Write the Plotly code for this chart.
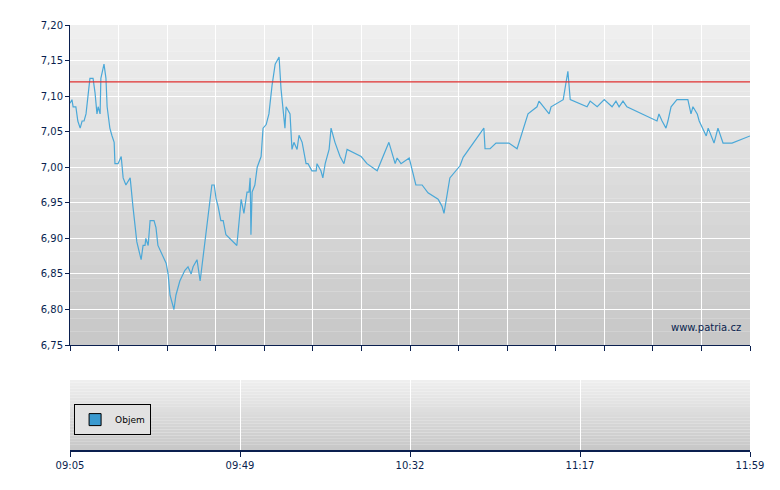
import plotly.graph_objects as go

minutes = [0,0.5,0.8,1.5,2.0,2.6,3.1,3.6,4.1,5.1,5.9,6.4,6.9,7.2,7.7,7.9,8.7,9.2,9.5,10.2,10.7,11.3,11.5,12.3,13.1,13.6,14.3,15.4,16.1,17.1,18.2,18.7,19.2,19.4,20.0,20.5,21.5,22.0,22.5,23.3,24.1,24.6,25.1,25.6,26.6,27.1,28.1,29.4,30.2,31.0,31.5,32.5,33.3,34.3,34.8,36.3,36.9,37.4,37.9,38.6,39.2,39.9,42.7,43.8,44.5,45.3,45.8,46.1,46.3,46.6,47.3,47.9,48.9,49.4,50.2,50.9,51.7,52.5,53.5,54.0,55.0,55.3,56.3,56.8,57.3,58.1,58.6,59.4,60.4,60.9,61.9,63.0,63.2,64.2,64.7,65.3,66.3,66.8,67.8,69.1,70.1,70.9,74.5,76.0,78.6,81.6,83.2,83.7,84.7,86.8,88.5,90.1,91.6,94.2,95.2,95.7,97.2,99.8,100.6,105.9,106.2,107.5,109.0,112.3,114.4,117.2,119.5,120.0,122.6,123.1,126.2,127.4,128.0,132.3,133.1,134.9,136.7,138.7,139.7,140.5,141.5,142.5,150.2,150.7,151.5,152.5,153.0,153.8,155.3,158.1,158.9,159.4,160.5,161.0,162.8,163.3,164.8,165.8,167.1,169.4,174]
prices = [7.09,7.095,7.085,7.085,7.065,7.055,7.065,7.065,7.075,7.125,7.125,7.105,7.075,7.085,7.075,7.125,7.145,7.125,7.085,7.055,7.045,7.035,7.005,7.005,7.015,6.985,6.975,6.985,6.945,6.895,6.87,6.89,6.89,6.90,6.89,6.925,6.925,6.915,6.89,6.88,6.87,6.865,6.85,6.82,6.80,6.82,6.84,6.855,6.86,6.85,6.86,6.87,6.84,6.885,6.90,6.975,6.975,6.955,6.945,6.925,6.925,6.905,6.89,6.955,6.935,6.965,6.965,6.985,6.905,6.965,6.975,7.00,7.015,7.055,7.06,7.075,7.115,7.145,7.155,7.11,7.055,7.085,7.075,7.025,7.035,7.025,7.045,7.035,7.005,7.005,6.995,6.995,7.005,6.995,6.985,7.005,7.025,7.055,7.035,7.015,7.005,7.025,7.015,7.005,6.995,7.035,7.005,7.013,7.005,7.013,6.975,6.975,6.964,6.955,6.945,6.935,6.985,7.002,7.014,7.055,7.026,7.026,7.034,7.034,7.026,7.075,7.085,7.093,7.075,7.085,7.095,7.135,7.095,7.085,7.093,7.085,7.095,7.085,7.093,7.085,7.093,7.085,7.065,7.075,7.065,7.055,7.065,7.085,7.095,7.095,7.075,7.085,7.075,7.065,7.044,7.055,7.034,7.055,7.034,7.034,7.044]
ref_price = 7.12
x_labels = ["09:05", "09:49", "10:32", "11:17", "11:59"]
y_ticks = [6.75, 6.80, 6.85, 6.90, 6.95, 7.00, 7.05, 7.10, 7.15, 7.20]

SPAN = 174
navy = "#0a1f4f"
fig = go.Figure()
fig.add_trace(go.Scatter(x=minutes, y=prices, mode="lines", line=dict(color="#4aa8d8", width=1.2),
                         xaxis="x", yaxis="y", showlegend=False, hoverinfo="skip"))
fig.add_trace(go.Scatter(x=[0, SPAN], y=[ref_price, ref_price], mode="lines",
                         line=dict(color="#e03030", width=1.2), showlegend=False))
fig.add_trace(go.Bar(x=[None], y=[None], name="Objem", xaxis="x2", yaxis="y2",
                     marker=dict(color="#3a9ad0", line=dict(color="black", width=1))))

shapes = []
def grad(y0, y1, n=24):
    for i in range(n):
        t = i / (n - 1)
        c = int(0xef - (0xef - 0xc8) * t)
        shapes.append(dict(type="rect", xref="x domain", yref="paper",
                           x0=0, x1=1, y0=y1 - (y1 - y0) * (i + 1) / n, y1=y1 - (y1 - y0) * i / n,
                           fillcolor=f"rgb({c},{c},{c})", line=dict(width=0), layer="below"))
grad(0.247, 1.0)
grad(0.0, 0.165)

fig.update_layout(
    width=780, height=490, margin=dict(l=62, r=38, t=17, b=48),
    paper_bgcolor="white", plot_bgcolor="rgba(0,0,0,0)",
    separators=",.",
    font=dict(family="DejaVu Sans", size=10, color=navy),
    shapes=shapes,
    xaxis=dict(domain=[0, 1], anchor="y", range=[0, SPAN], tickvals=[SPAN * i / 14 for i in range(15)],
               showticklabels=False, ticks="outside", ticklen=5, tickcolor=navy,
               showgrid=True, gridcolor="white", gridwidth=1, showline=True, linecolor=navy, zeroline=False),
    yaxis=dict(domain=[0.247, 1], anchor="x", range=[6.75, 7.20], tickvals=y_ticks, tickformat=".2f",
               ticks="outside", ticklen=4, tickcolor=navy, showgrid=True, gridcolor="white",
               showline=True, linecolor=navy, zeroline=False),
    xaxis2=dict(domain=[0, 1], anchor="y2", range=[0, SPAN], tickvals=[SPAN * i / 4 for i in range(5)],
                ticktext=x_labels, ticks="outside", ticklen=5, tickcolor=navy,
                showgrid=True, gridcolor="white", showline=True, linecolor=navy, linewidth=1.5, zeroline=False),
    yaxis2=dict(domain=[0, 0.165], anchor="x2", range=[0, 1], showticklabels=False, showgrid=False,
                zeroline=False, showline=False),
    showlegend=True,
    legend=dict(x=0.006, y=0.108, xanchor="left", yanchor="top", bgcolor="#e2e2e2",
                bordercolor="black", borderwidth=1, font=dict(size=9, color="black"),
                itemwidth=30, tracegroupgap=0),
    annotations=[dict(text="www.patria.cz", x=0.99, y=0.27, xref="paper", yref="paper",
                      xanchor="right", yanchor="bottom", showarrow=False,
                      font=dict(size=10, color=navy))],
)
fig.write_html("out.html")
